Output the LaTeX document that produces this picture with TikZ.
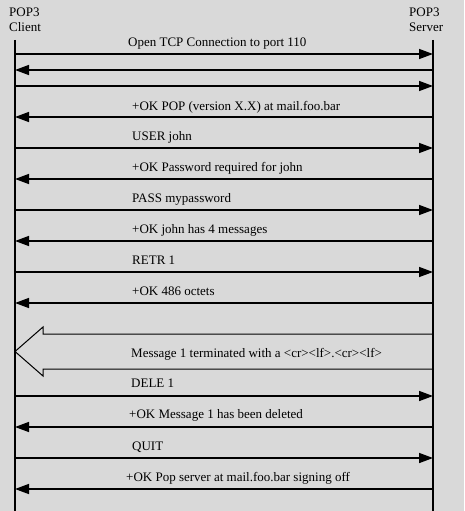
\documentclass[tikz,border=0pt]{standalone}
\usepackage{fontspec}
\setmainfont{Liberation Serif}
\usetikzlibrary{arrows.meta}
\definecolor{bg}{RGB}{217,217,217}
\begin{document}
\begin{tikzpicture}[x=1pt,y=-1pt,
  font=\fontsize{13}{15}\selectfont,
  msg/.style={line width=1.5pt,-{Triangle[length=14pt,width=10pt]}},
  lbl/.style={anchor=base west,inner sep=0pt},
  life/.style={line width=1.3pt},
  bigarrow/.style={line width=1pt,fill=bg,line join=miter}]
\fill[bg] (0,0) rectangle (464,511);
\useasboundingbox (0,0) rectangle (464,511);
% headers
\node[lbl] (hc1) at (9,17) {POP3};
\node[lbl] (hc2) at (9,32) {Client};
\node[lbl] (hs1) at (409,17) {POP3};
\node[lbl] (hs2) at (409,32) {Server};
% lifeline end points
\coordinate (ctop) at (15,40);
\coordinate (cbot) at (15,511);
\coordinate (stop) at (433,40);
\coordinate (sbot) at (433,511);
% message levels
\foreach \n/\y in {1/54,2/70,3/86,4/117,5/148,6/179,7/210,8/241,9/272,10/303,11/396,12/427,13/458,14/489}{
  \coordinate (c\n) at (15,\y);
  \coordinate (s\n) at (433,\y);
}
% big arrow
\coordinate (b1) at (433,334);
\coordinate (b2) at (43,334);
\coordinate (b3) at (43,327);
\coordinate (b4) at (15,351.5);
\coordinate (b5) at (43,376);
\coordinate (b6) at (43,369);
\coordinate (b7) at (433,369);
\draw[bigarrow] (b1) -- (b2) -- (b3) -- (b4) -- (b5) -- (b6) -- (b7);
% lifelines
\draw[life] (ctop) -- (cbot);
\draw[life] (stop) -- (sbot);
% messages
\draw[msg] (c1) -- (s1);
\draw[msg] (s2) -- (c2);
\draw[msg] (c3) -- (s3);
\draw[msg] (s4) -- (c4);
\draw[msg] (c5) -- (s5);
\draw[msg] (s6) -- (c6);
\draw[msg] (c7) -- (s7);
\draw[msg] (s8) -- (c8);
\draw[msg] (c9) -- (s9);
\draw[msg] (s10) -- (c10);
\draw[msg] (c11) -- (s11);
\draw[msg] (s12) -- (c12);
\draw[msg] (c13) -- (s13);
\draw[msg] (s14) -- (c14);
% labels
\node[lbl] (l1) at (128,47) {Open TCP Connection to port 110};
\node[lbl] (l4) at (132,110) {+OK POP (version X.X) at mail.foo.bar};
\node[lbl] (l5) at (132,140.5) {USER john};
\node[lbl] (l6) at (132,171.5) {+OK Password required for john};
\node[lbl] (l7) at (132,202.5) {PASS mypassword};
\node[lbl] (l8) at (132,233.5) {+OK john has 4 messages};
\node[lbl] (l9) at (132,264.5) {RETR 1};
\node[lbl] (l10) at (132,295.5) {+OK 486 octets};
\node[lbl] (lb) at (131,357) {Message 1 terminated with a <cr><lf>.<cr><lf>};
\node[lbl] (l11) at (131,387.5) {DELE 1};
\node[lbl] (l12) at (129,418.5) {+OK Message 1 has been deleted};
\node[lbl] (l13) at (132,450) {QUIT};
\node[lbl] (l14) at (126,481) {+OK Pop server at mail.foo.bar signing off};
\end{tikzpicture}
\end{document}
